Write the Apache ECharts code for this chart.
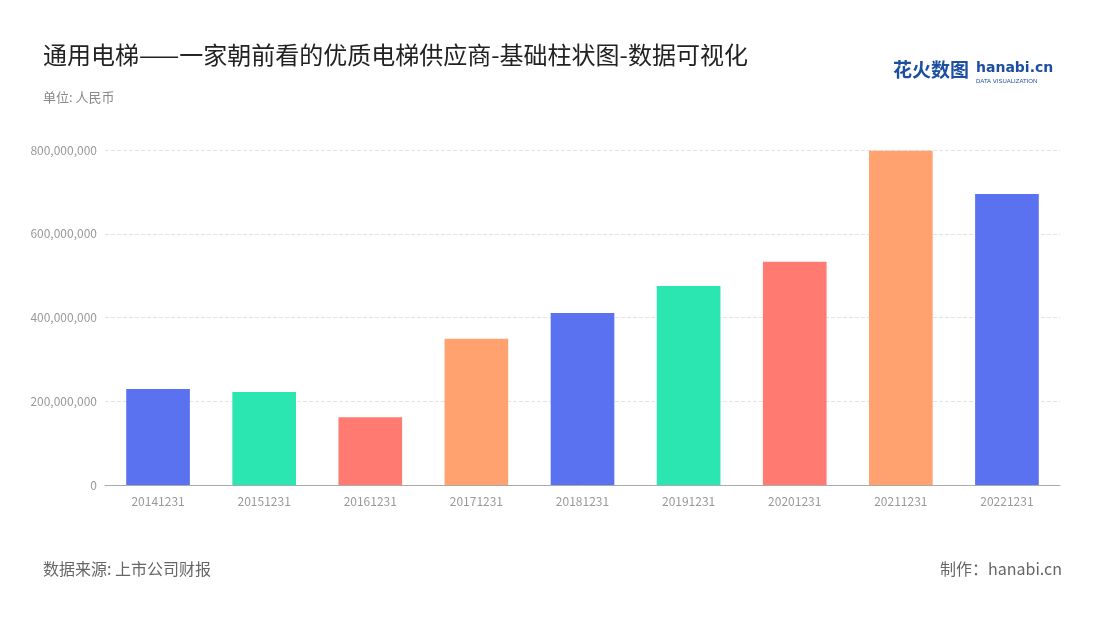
<!DOCTYPE html>
<html>
<head>
<meta charset="utf-8">
<script src="https://cdn.jsdelivr.net/npm/echarts@6/dist/echarts.min.js"></script>
<style>
  html, body { margin: 0; padding: 0; background: #fff; }
  #chart { width: 1100px; height: 620px; }
</style>
</head>
<body>
<div id="chart"></div>
<script>
const categories = ['20141231', '20151231', '20161231', '20171231', '20181231', '20191231', '20201231', '20211231', '20221231'];
const values = [229000000, 222000000, 162000000, 349000000, 411000000, 475000000, 533000000, 798000000, 695000000];
const palette = ['#5a72ef', '#2ce6b1', '#ff7a71', '#ffa26f'];

const font = '"Noto Sans CJK SC", "Noto Sans", sans-serif';
const chart = echarts.init(document.getElementById('chart'));
chart.setOption({
    animation: false,
    textStyle: { fontFamily: font },
    title: [
        { text: '通用电梯——一家朝前看的优质电梯供应商-基础柱状图-数据可视化', left: 38, top: 38,
          textStyle: { fontSize: 24, fontWeight: 'normal', color: '#222', fontFamily: font } },
        { text: '单位: 人民币', left: 38, top: 86, textStyle: { fontSize: 13, fontWeight: 'normal', color: '#888', fontFamily: font } },
        { text: '数据来源: 上市公司财报', left: 38, top: 556, textStyle: { fontSize: 16, fontWeight: 'normal', color: '#666', fontFamily: font } },
        { text: '制作：hanabi.cn', right: 33, top: 556, textStyle: { fontSize: 16, fontWeight: 'normal', color: '#666', fontFamily: font } }
    ],
    graphic: [
        { type: 'text', left: 893, top: 60, style: { text: '花火数图', fill: '#1d4fa0', font: 'bold 19px ' + font } },
        { type: 'text', left: 976, top: 61, style: { text: 'hanabi.cn', fill: '#1d4fa0', font: 'bold 14px "DejaVu Sans", sans-serif' } },
        { type: 'text', left: 976, top: 78, style: { text: 'DATA VISUALIZATION', fill: '#1d4fa0', font: '6px sans-serif' } }
    ],
    grid: { left: 105, right: 40, top: 150, bottom: 135 },
    xAxis: {
        type: 'category',
        data: categories,
        axisTick: { show: false },
        axisLine: { lineStyle: { color: '#aaa' } },
        axisLabel: { color: '#999', fontSize: 12, margin: 10 }
    },
    yAxis: {
        type: 'value',
        min: 0, max: 800000000, interval: 200000000,
        axisLabel: { color: '#999', fontSize: 12, formatter: v => v.toLocaleString('en-US') },
        splitLine: { lineStyle: { type: 'dashed', color: '#e3e3e3' } },
        axisLine: { show: false }, axisTick: { show: false }
    },
    series: [{
        type: 'bar',
        barWidth: '60%',
        data: values.map((v, i) => ({ value: v, itemStyle: { color: palette[i % palette.length] } }))
    }]
});
</script>
</body>
</html>
